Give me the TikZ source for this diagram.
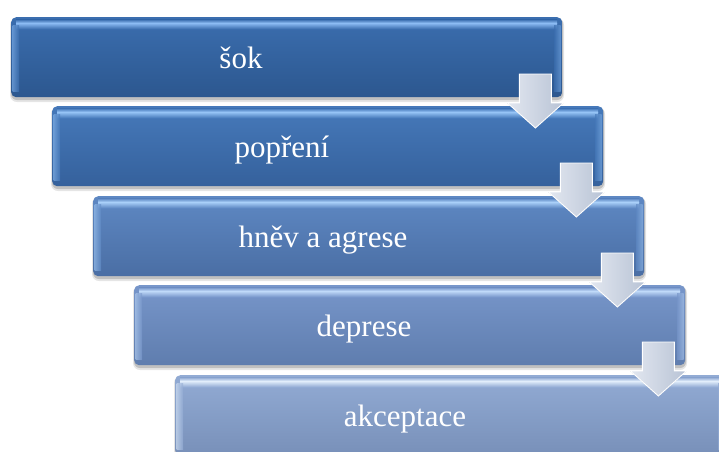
\documentclass[tikz,border=0pt]{standalone}
\usepackage{fontspec}
\setmainfont{Liberation Serif}
\newfontfamily\stagefont{Liberation Serif}
\usetikzlibrary{calc}
\definecolor{arrL}{HTML}{E2E7F0}
\definecolor{arrR}{HTML}{B8C3D5}
\definecolor{tA}{HTML}{3B6EAF}\definecolor{bA}{HTML}{2C578F}\definecolor{hA}{HTML}{8CBCF4}
\definecolor{tB}{HTML}{4679BA}\definecolor{bB}{HTML}{35619C}\definecolor{hB}{HTML}{96C4F6}
\definecolor{tC}{HTML}{5E88C3}\definecolor{bC}{HTML}{4A6EA4}\definecolor{hC}{HTML}{AAD0F9}
\definecolor{tD}{HTML}{7796CA}\definecolor{bD}{HTML}{5F7DAE}\definecolor{hD}{HTML}{C0DAF9}
\definecolor{tE}{HTML}{92ABD4}\definecolor{bE}{HTML}{7890B9}\definecolor{hE}{HTML}{E2EEFB}
\newcommand\stagebox[7]{%
  % #1 name, #2 x, #3 y, #4 top colour, #5 bottom colour, #6 highlight, #7 text
  \fill[black,opacity=0.10,rounded corners=7pt] (#2-1,#3+1) rectangle (#2+553,#3+85);
  \fill[black,opacity=0.16,rounded corners=6pt] (#2,#3+1) rectangle (#2+552,#3+83);
  \node[stage, top color=#4, bottom color=#5] (#1) at (#2,#3) {};
  \shade[top color=#4, bottom color=#6] (#2+5,#3+2.5) rectangle (#2+546,#3+6);
  \shade[top color=#6, bottom color=#4] (#2+5,#3+6) rectangle (#2+546,#3+12);
  \shade[left color=#6!70!#4, right color=#4, opacity=0.7] (#2+1.5,#3+8) rectangle (#2+8,#3+74);
  \shade[left color=#4, right color=#6!60!#4, opacity=0.7] (#2+543,#3+8) rectangle (#2+549.5,#3+74);
  \node[lbl, anchor=base] (#1t) at ($(#1.west)+(230,11)$) {#7};
}
\newcommand\downarr[1]{%
  \filldraw[draw=white, line width=0.9pt, line join=miter, left color=arrL, right color=arrR]
    (#1) -- ++(32,0) -- ++(0,29) -- ++(12,0) -- ++(-28,25) -- ++(-28,-25) -- ++(12,0) -- cycle;
}
\begin{document}
\begin{tikzpicture}[x=1pt,y=-1pt,
  stage/.style={rectangle, rounded corners=5pt, minimum width=551pt, minimum height=80pt,
    inner sep=0pt, anchor=north west, draw=none},
  lbl/.style={text=white, font=\stagefont\fontsize{31}{31}\selectfont, inner sep=0pt}]
\useasboundingbox (0,0) rectangle (719,451);
\clip (0,0) rectangle (719,451);
\fill[white] (0,0) rectangle (719,451);
\stagebox{b1}{11}{17}{tA}{bA}{hA}{šok}
\stagebox{b2}{52}{106}{tB}{bB}{hB}{popření}
\stagebox{b3}{93}{196}{tC}{bC}{hC}{hněv a agrese}
\stagebox{b4}{134}{285}{tD}{bD}{hD}{deprese}
\stagebox{b5}{175}{375}{tE}{bE}{hE}{akceptace}
\foreach \i in {1,2,3,4}{
  \coordinate (a\i) at ($(b\i.north east)+(-43,57)$);
  \downarr{a\i}
}
\end{tikzpicture}
\end{document}
